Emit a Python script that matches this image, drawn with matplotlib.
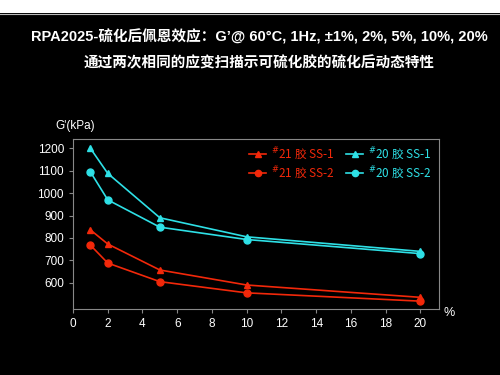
import matplotlib
matplotlib.use("Agg")
import matplotlib.pyplot as plt
from matplotlib.patches import Rectangle

plt.rcParams['font.family'] = ['Liberation Sans', 'Noto Sans CJK SC', 'DejaVu Sans']

strain = [1, 2, 5, 10, 20]
g20_ss1 = [1200, 1088, 890, 805, 740]
g20_ss2 = [1095, 970, 848, 793, 730]
g21_ss1 = [836, 773, 657, 590, 535]
g21_ss2 = [768, 688, 605, 555, 518]

labels = ["$^{\\#}$21 胶 SS-1", "$^{\\#}$20 胶 SS-1", "$^{\\#}$21 胶 SS-2", "$^{\\#}$20 胶 SS-2"]
xticks = list(range(0, 21, 2))
yticks = [600, 700, 800, 900, 1000, 1100, 1200]

RED = "#F2280A"
CYAN = "#2EE0E6"

fig = plt.figure(figsize=(5, 3.75), dpi=100, facecolor="black")
fig.patches.append(Rectangle((0, 1 - 13/375), 1, 13/375, transform=fig.transFigure,
                             facecolor="white", edgecolor="none", zorder=0))
fig.lines.append(plt.Line2D([0, 1], [1 - 13.5/375, 1 - 13.5/375], transform=fig.transFigure,
                            color="#bbbbbb", lw=0.8))

ax = fig.add_axes([0.146, 0.176, 0.732, 0.4525])
ax.set_facecolor("black")

l1, = ax.plot(strain, g21_ss1, color=RED, marker="^", ms=5, lw=1.2)
l2, = ax.plot(strain, g20_ss1, color=CYAN, marker="^", ms=5, lw=1.2)
l3, = ax.plot(strain, g21_ss2, color=RED, marker="o", ms=5, lw=1.2)
l4, = ax.plot(strain, g20_ss2, color=CYAN, marker="o", ms=5, lw=1.2)

ax.set_xlim(0, 21.07)
ax.set_ylim(483, 1240)
ax.set_xticks(xticks)
ax.set_yticks(yticks)
for s in ax.spines.values():
    s.set_color("#888888")
    s.set_linewidth(0.8)
ax.tick_params(colors="#888888", labelcolor="white", labelsize=8.5, length=3, width=0.8)

leg = ax.legend([l1, l3, l2, l4], [labels[0], labels[2], labels[1], labels[3]], ncol=2,
                loc="upper right", frameon=False,
                prop={'family': ['Noto Sans CJK SC'], 'size': 8.5},
                handlelength=1.4, handletextpad=0.4, columnspacing=1.0, markerscale=0.9,
                labelspacing=0.2, borderaxespad=0.1, bbox_to_anchor=(0.995, 1.0))
for t, c in zip(leg.get_texts(), [RED, RED, CYAN, CYAN]):
    t.set_color(c)

fig.text(0.11, 0.665, "G'(kPa)", color="white", fontsize=8.5, ha="left", va="center")
fig.text(0.898, 0.165, "%", color="white", fontsize=9, ha="center", va="center")

fig.text(0.518, 0.902, "RPA2025-硫化后佩恩效应：G’@ 60°C, 1Hz, ±1%, 2%, 5%, 10%, 20%",
         color="white", fontsize=10.5, fontweight="bold", ha="center", va="center")
fig.text(0.518, 0.835, "通过两次相同的应变扫描示可硫化胶的硫化后动态特性",
         color="white", fontsize=10.5, fontweight="bold", ha="center", va="center",
         family=['Noto Sans CJK SC'])

fig.savefig("out.png", dpi=100, facecolor="black")
